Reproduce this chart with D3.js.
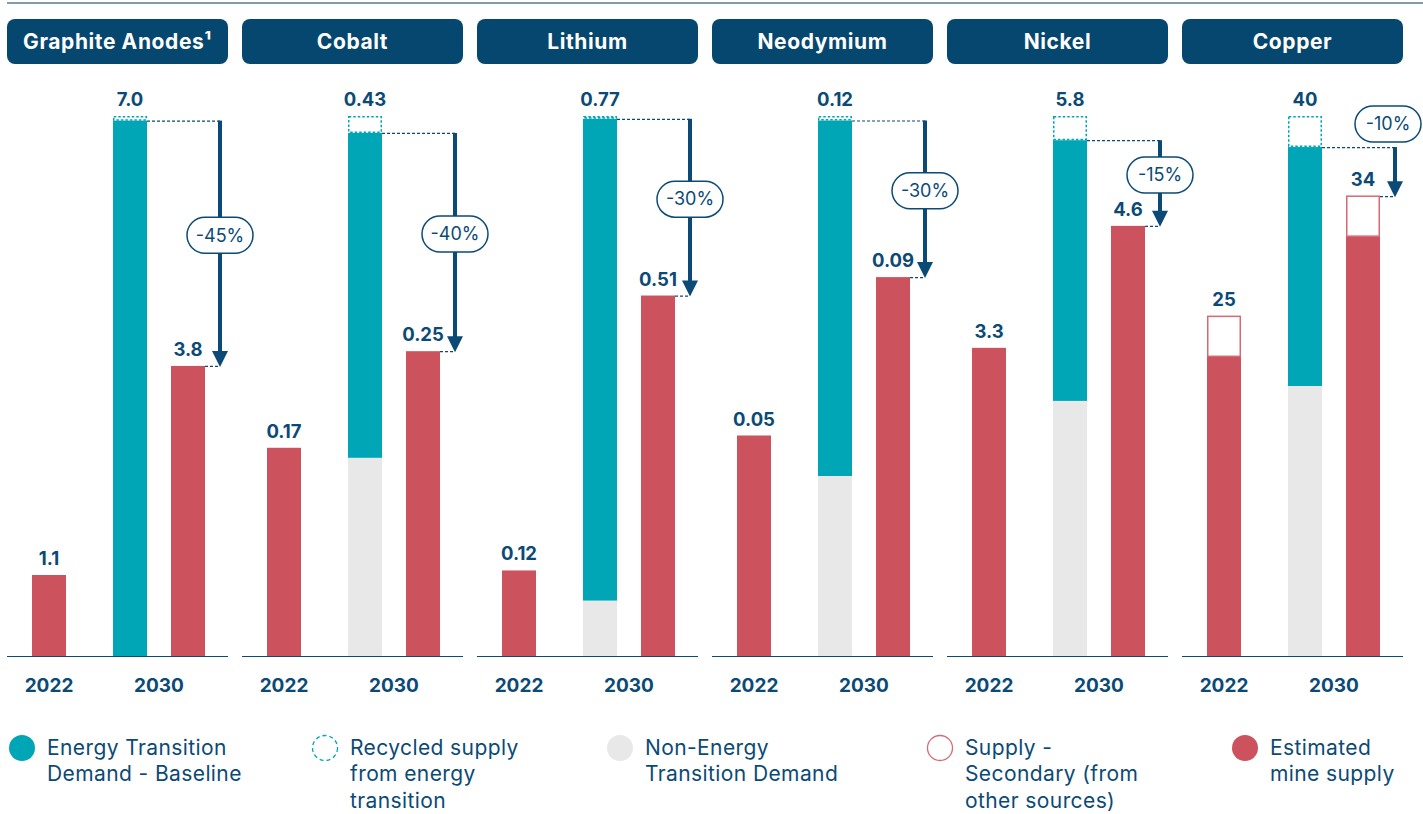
<!DOCTYPE html>
<html lang="en">
<head>
  <meta charset="UTF-8">
  <title>Critical minerals: demand vs supply 2022 / 2030</title>
  <script src="https://d3js.org/d3.v7.min.js"></script>
  <style>
    body { margin: 0; background: #fff; }
    svg { display: block; font-family: Inter, "Noto Sans", sans-serif; }
  </style>
</head>
<body>
  <svg width="1423" height="814"></svg>

  <script>
    // Input data (per material)
    const materials = ["Graphite Anodes¹", "Cobalt", "Lithium", "Neodymium", "Nickel", "Copper"];
    const years = ["2022", "2030"];

    const mine2022 = [1.05, 0.166, 0.122, 0.049, 3.31, 22.2];
    const secondary2022 = [0, 0, 0, 0, 0, 2.96];

    const nonEtDemand2030 = [0, 0.158, 0.079, 0.040, 2.74, 20.0];
    const etDemand2030 = [6.94, 0.259, 0.687, 0.079, 2.80, 17.7];
    const recycled2030 = [0.06, 0.0135, 0.004, 0.001, 0.26, 2.3];
    const mine2030 = [3.76, 0.243, 0.514, 0.0842, 4.62, 31.1];
    const secondary2030 = [0, 0, 0, 0, 0, 2.96];

    const labels2022 = ["1.1", "0.17", "0.12", "0.05", "3.3", "25"];
    const labelsDemand2030 = ["7.0", "0.43", "0.77", "0.12", "5.8", "40"];
    const labelsSupply2030 = ["3.8", "0.25", "0.51", "0.09", "4.6", "34"];
    const gapLabels = ["-45%", "-40%", "-30%", "-30%", "-15%", "-10%"];

    const legendLabels = [
      ["Energy Transition", "Demand - Baseline"],
      ["Recycled supply", "from energy", "transition"],
      ["Non-Energy", "Transition Demand"],
      ["Supply -", "Secondary (from", "other sources)"],
      ["Estimated", "mine supply"]
    ];

    // Colours
    const navy = "#0b4a76";
    const header = "#05476f";
    const teal = "#00a6b6";
    const red = "#cc535d";
    const redLine = "#d66a73";
    const grey = "#e8e8e8";

    // Layout
    const panelStart = 7, panelStep = 235, panelWidth = 221;
    const baseY = 656, topY = 116;
    const barW = 34;
    const arrowX = 213;

    const svg = d3.select("svg");

    svg.append("line")
      .attr("x1", 7).attr("x2", 1423).attr("y1", 3).attr("y2", 3)
      .attr("stroke", "#7f9cb3").attr("stroke-width", 2);

    const xPanel = d3.scaleLinear().domain([0, 1]).range([panelStart, panelStart + panelStep]);

    // year bands inside a panel, and a sub band for the two 2030 bars
    const xYear = d3.scaleBand().domain(years).range([-13, 207]);
    const x2030 = d3.scaleBand().domain(["demand", "supply"])
      .range([xYear("2030") + xYear.bandwidth() / 2 - 58, xYear("2030") + xYear.bandwidth() / 2 + 58])
      .paddingInner(0.414).paddingOuter(0.207);

    const valueLabel = (g, x, yPos, txt) => g.append("text")
      .attr("x", x).attr("y", yPos)
      .attr("text-anchor", "middle").attr("fill", navy)
      .attr("font-size", 18.5).attr("font-weight", 700)
      .text(txt);

    materials.forEach((name, i) => {
      const g = svg.append("g").attr("transform", `translate(${xPanel(i)},0)`);
      const total = nonEtDemand2030[i] + etDemand2030[i] + recycled2030[i];
      const y = d3.scaleLinear().domain([0, total]).range([baseY, topY]);

      // header
      g.append("rect")
        .attr("x", 0).attr("y", 19).attr("width", panelWidth).attr("height", 45)
        .attr("rx", 8).attr("fill", header);
      g.append("text")
        .attr("x", panelWidth / 2).attr("y", 42).attr("dy", "0.35em")
        .attr("text-anchor", "middle").attr("fill", "#fff")
        .attr("font-size", 21).attr("font-weight", 700)
        .attr("letter-spacing", 0.6)
        .text(name);

      // 2022 bar
      const x22 = xYear("2022") + xYear.bandwidth() / 2 - barW / 2;
      g.append("rect")
        .attr("x", x22).attr("y", y(mine2022[i]))
        .attr("width", barW).attr("height", baseY - y(mine2022[i]))
        .attr("fill", red);
      if (secondary2022[i] > 0) {
        g.append("rect")
          .attr("x", x22 + 0.75).attr("y", y(mine2022[i] + secondary2022[i]))
          .attr("width", barW - 1.5).attr("height", y(mine2022[i]) - y(mine2022[i] + secondary2022[i]))
          .attr("fill", "#fff").attr("stroke", redLine).attr("stroke-width", 1.5);
      }
      const top22 = y(mine2022[i] + secondary2022[i]);
      valueLabel(g, x22 + barW / 2, top22 - 10, labels2022[i]);

      // 2030 demand stack
      const xd = x2030("demand");
      const etTop = y(nonEtDemand2030[i] + etDemand2030[i]);
      if (nonEtDemand2030[i] > 0) {
        g.append("rect")
          .attr("x", xd).attr("y", y(nonEtDemand2030[i]))
          .attr("width", barW).attr("height", baseY - y(nonEtDemand2030[i]))
          .attr("fill", grey);
      }
      g.append("rect")
        .attr("x", xd).attr("y", etTop)
        .attr("width", barW).attr("height", y(nonEtDemand2030[i]) - etTop)
        .attr("fill", teal);
      g.append("rect")
        .attr("x", xd + 0.75).attr("y", y(total) + 0.75)
        .attr("width", barW - 1.5).attr("height", Math.max(etTop - y(total) - 1.5, 0.5))
        .attr("fill", "#fff").attr("stroke", teal).attr("stroke-width", 1.5)
        .attr("stroke-dasharray", "2.5,2");
      valueLabel(g, xd + barW / 2, y(total) - 10, labelsDemand2030[i]);

      // 2030 supply stack
      const xs = x2030("supply");
      g.append("rect")
        .attr("x", xs).attr("y", y(mine2030[i]))
        .attr("width", barW).attr("height", baseY - y(mine2030[i]))
        .attr("fill", red);
      if (secondary2030[i] > 0) {
        g.append("rect")
          .attr("x", xs + 0.75).attr("y", y(mine2030[i] + secondary2030[i]))
          .attr("width", barW - 1.5).attr("height", y(mine2030[i]) - y(mine2030[i] + secondary2030[i]))
          .attr("fill", "#fff").attr("stroke", redLine).attr("stroke-width", 1.5);
      }
      const supTop = y(mine2030[i] + secondary2030[i]);
      valueLabel(g, xs + barW / 2, supTop - 10, labelsSupply2030[i]);

      // connectors and gap arrow
      g.append("line")
        .attr("x1", xd + barW).attr("x2", arrowX).attr("y1", etTop + 0.5).attr("y2", etTop + 0.5)
        .attr("stroke", navy).attr("stroke-width", 1.2).attr("stroke-dasharray", "3,2");
      g.append("line")
        .attr("x1", xs + barW).attr("x2", arrowX).attr("y1", supTop + 0.5).attr("y2", supTop + 0.5)
        .attr("stroke", navy).attr("stroke-width", 1.2).attr("stroke-dasharray", "3,2");
      g.append("line")
        .attr("x1", arrowX).attr("x2", arrowX).attr("y1", etTop).attr("y2", supTop - 12)
        .attr("stroke", navy).attr("stroke-width", 4);
      g.append("path")
        .attr("d", `M${arrowX - 8},${supTop - 15} L${arrowX + 8},${supTop - 15} L${arrowX},${supTop + 1} Z`)
        .attr("fill", navy);

      const len = supTop - etTop;
      let pillX = arrowX, pillY = (etTop + supTop) / 2 - 8;
      if (len < 80) pillY = etTop - 23;
      pillX = Math.min(pillX, 1418 - xPanel(i) - 30);
      g.append("rect")
        .attr("x", pillX - 33).attr("y", pillY - 18).attr("width", 66).attr("height", 36)
        .attr("rx", 18).attr("fill", "#fff").attr("stroke", navy).attr("stroke-width", 1.5);
      g.append("text")
        .attr("x", pillX).attr("y", pillY).attr("dy", "0.35em")
        .attr("text-anchor", "middle").attr("fill", navy).attr("font-size", 18)
        .text(gapLabels[i]);

      // baseline and year labels
      g.append("line")
        .attr("x1", 0).attr("x2", panelWidth).attr("y1", baseY + 0.5).attr("y2", baseY + 0.5)
        .attr("stroke", navy).attr("stroke-width", 1.2);
      g.selectAll(".year")
        .data(years)
        .enter().append("text")
        .attr("class", "year")
        .attr("x", d => xYear(d) + xYear.bandwidth() / 2)
        .attr("y", 685).attr("dy", "0.35em")
        .attr("text-anchor", "middle").attr("fill", navy)
        .attr("font-size", 19).attr("font-weight", 700)
        .text(d => d);
    });

    // legend
    const legendX = [22, 325, 620, 940, 1245];
    const legendStyle = [
      { fill: teal, stroke: "none", dash: null },
      { fill: "#fff", stroke: teal, dash: "4,3" },
      { fill: grey, stroke: "none", dash: null },
      { fill: "#fff", stroke: redLine, dash: null },
      { fill: red, stroke: "none", dash: null }
    ];
    const legend = svg.selectAll(".legend")
      .data(legendLabels)
      .enter().append("g")
      .attr("class", "legend")
      .attr("transform", (d, i) => `translate(${legendX[i]},748)`);
    legend.append("circle")
      .attr("r", (d, i) => legendStyle[i].stroke === "none" ? 13 : 12.5)
      .attr("fill", (d, i) => legendStyle[i].fill)
      .attr("stroke", (d, i) => legendStyle[i].stroke)
      .attr("stroke-width", 1.3)
      .attr("stroke-dasharray", (d, i) => legendStyle[i].dash);
    legend.append("text")
      .attr("x", 25).attr("fill", navy).attr("font-size", 21)
      .attr("letter-spacing", 0.4)
      .selectAll("tspan")
      .data(d => d)
      .enter().append("tspan")
      .attr("x", 25)
      .attr("y", (d, j) => j * 26.5)
      .attr("dy", "0.33em")
      .text(d => d);
  </script>
</body>
</html>
